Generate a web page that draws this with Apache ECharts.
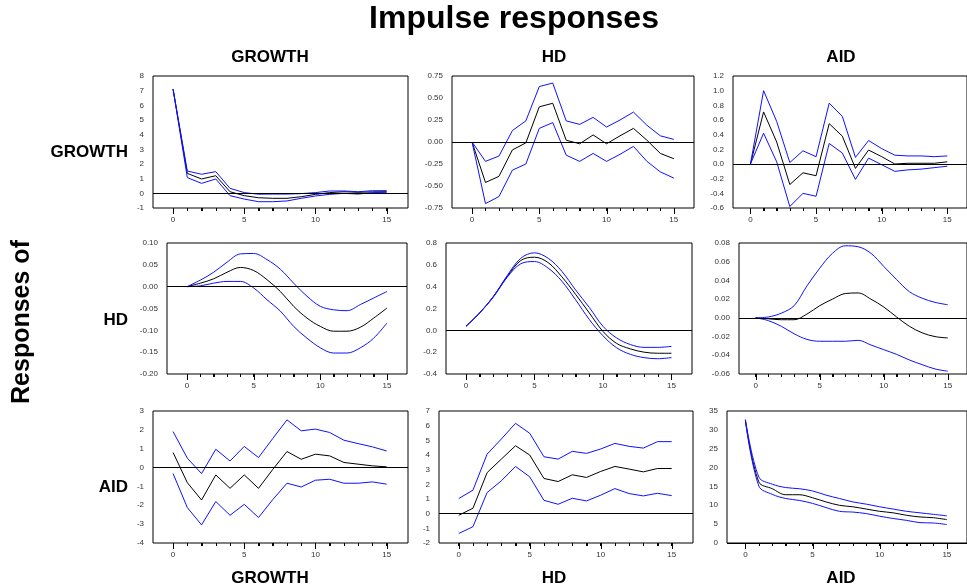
<!DOCTYPE html>
<html>
<head>
<meta charset="utf-8">
<script src="https://cdn.jsdelivr.net/npm/echarts@6/dist/echarts.min.js"></script>
<style>
html,body{margin:0;padding:0;background:#fff;}
#chart{width:967px;height:588px;}
</style>
</head>
<body>
<div id="chart"></div>
<script>
// ---------------- DATA ----------------
const periods = [0,1,2,3,4,5,6,7,8,9,10,11,12,13,14,15];
const xTickValues = [0,1,2,3,4,5,6,7,8,9,10,11,12,13,14,15];
const xLabelValues = [0,5,10,15];
const shockNames = ['GROWTH','HD','AID'];
const responseNames = ['GROWTH','HD','AID'];
const mainTitle = 'Impulse responses';
const sideTitle = 'Responses of';

// Responses of GROWTH
const gr_gr_mean  = [7.1,1.36,0.98,1.2,0.11,-0.16,-0.3,-0.34,-0.34,-0.23,-0.07,0.05,0.11,0.07,0.1,0.11];
const gr_gr_upper = [7.1,1.52,1.3,1.48,0.34,0.05,-0.06,-0.05,-0.05,-0.02,0.05,0.16,0.16,0.11,0.18,0.18];
const gr_gr_lower = [7.1,1.07,0.68,0.98,-0.16,-0.39,-0.57,-0.57,-0.52,-0.34,-0.18,-0.07,0.0,-0.05,0.05,0.07];

const gr_hd_mean  = [0,-0.46,-0.39,-0.09,-0.01,0.40,0.44,0.02,-0.02,0.08,-0.02,0.07,0.155,0.02,-0.13,-0.19];
const gr_hd_upper = [0,-0.22,-0.16,0.13,0.24,0.63,0.67,0.24,0.2,0.28,0.17,0.25,0.34,0.19,0.07,0.03];
const gr_hd_lower = [0,-0.70,-0.62,-0.32,-0.25,0.155,0.22,-0.15,-0.22,-0.13,-0.22,-0.14,-0.05,-0.22,-0.34,-0.41];

const gr_aid_mean  = [0,0.71,0.30,-0.28,-0.12,-0.16,0.55,0.38,-0.06,0.19,0.10,0.0,0.01,0.01,0.01,0.03];
const gr_aid_upper = [0,1.0,0.58,0.02,0.18,0.10,0.83,0.65,0.09,0.32,0.21,0.12,0.11,0.11,0.10,0.11];
const gr_aid_lower = [0,0.42,0.03,-0.58,-0.40,-0.44,0.28,0.15,-0.21,0.08,-0.01,-0.10,-0.08,-0.07,-0.05,-0.03];

// Responses of HD
const hd_gr_mean  = [0,0.008,0.018,0.033,0.044,0.037,0.016,-0.011,-0.045,-0.072,-0.091,-0.102,-0.102,-0.093,-0.072,-0.049];
const hd_gr_upper = [0,0.015,0.033,0.056,0.075,0.076,0.062,0.04,0.008,-0.022,-0.045,-0.053,-0.055,-0.041,-0.026,-0.011];
const hd_gr_lower = [0,0.002,0.008,0.012,0.012,-0.003,-0.03,-0.056,-0.091,-0.118,-0.14,-0.152,-0.152,-0.14,-0.118,-0.083];

const hd_hd_mean  = [0.037,0.16,0.31,0.49,0.64,0.67,0.62,0.49,0.33,0.16,-0.01,-0.12,-0.17,-0.2,-0.21,-0.21];
const hd_hd_upper = [0.037,0.16,0.31,0.50,0.66,0.71,0.66,0.54,0.37,0.21,0.037,-0.07,-0.13,-0.156,-0.156,-0.147];
const hd_hd_lower = [0.037,0.16,0.305,0.485,0.61,0.63,0.57,0.45,0.28,0.10,-0.05,-0.16,-0.22,-0.25,-0.26,-0.25];

const hd_aid_mean  = [0,-0.001,-0.002,-0.002,0.004,0.013,0.02,0.026,0.0266,0.02,0.0116,0.001,-0.009,-0.016,-0.02,-0.0215];
const hd_aid_upper = [0,0.001,0.005,0.013,0.034,0.053,0.069,0.077,0.076,0.069,0.055,0.041,0.028,0.021,0.0166,0.014];
const hd_aid_lower = [0,-0.003,-0.009,-0.017,-0.023,-0.025,-0.025,-0.025,-0.024,-0.029,-0.034,-0.039,-0.045,-0.05,-0.0546,-0.057];

// Responses of AID
const aid_gr_mean  = [0.8,-0.8,-1.72,-0.39,-1.1,-0.39,-1.1,-0.1,0.85,0.44,0.71,0.62,0.27,0.18,0.09,0.04];
const aid_gr_upper = [1.91,0.5,-0.32,0.97,0.35,1.12,0.53,1.54,2.53,1.95,2.04,1.86,1.45,1.27,1.1,0.88];
const aid_gr_lower = [-0.32,-2.12,-3.04,-1.8,-2.53,-1.95,-2.65,-1.7,-0.83,-1.03,-0.67,-0.62,-0.83,-0.83,-0.76,-0.88];

const aid_hd_mean  = [-0.11,0.37,2.8,3.72,4.63,4.0,2.4,2.19,2.65,2.47,2.88,3.22,3.04,2.85,3.08,3.08];
const aid_hd_upper = [1.03,1.6,4.06,5.09,6.16,5.48,3.88,3.72,4.25,4.11,4.41,4.79,4.59,4.47,4.91,4.91];
const aid_hd_lower = [-1.35,-0.89,1.44,2.24,3.22,2.51,0.91,0.64,1.05,0.87,1.26,1.71,1.37,1.21,1.39,1.23];

const aid_aid_mean  = [32.5,16.2,14.4,12.8,12.8,12.0,10.9,10.0,9.6,9.0,8.4,8.0,7.35,6.9,6.7,6.2];
const aid_aid_upper = [32.8,17.5,15.6,14.7,14.4,13.8,12.7,11.8,10.9,10.3,9.6,9.0,8.4,8.0,7.6,7.2];
const aid_aid_lower = [32.4,15.1,12.9,11.8,11.3,10.5,9.4,8.4,8.2,7.8,7.1,6.5,6.0,5.4,5.3,4.9];

// y-axis scales per panel (min, max, interval, decimals)
const yMins      = [-1, -0.75, -0.6, -0.2, -0.4, -0.06, -4, -2, 0];
const yMaxs      = [8, 0.75, 1.2, 0.1, 0.8, 0.08, 3, 7, 35];
const yIntervals = [1, 0.25, 0.2, 0.05, 0.2, 0.02, 1, 1, 5];
const yDecimals  = [0, 2, 1, 2, 1, 2, 0, 0, 0];

// ---------------- LAYOUT (positions, not data) ----------------
const panelLeft  = [153, 452, 733, 167, 446, 739, 153, 439, 727];
const panelWidth = [255, 242, 244.5, 240, 246, 237, 255, 254, 251];
const panelXMin  = [-1.41, -1.49, -1.33, -1.5, -1.46, -1.3, -1.41, -1.39, -1.37];
const rowTop     = [76, 243, 411];
const rowHeight  = [132, 131, 132];
const smoothPanel = [false,false,false,true,true,true,false,false,true];
const MINOR_TICK = 3, MAJOR_TICK = 6;

const means  = [gr_gr_mean, gr_hd_mean, gr_aid_mean, hd_gr_mean, hd_hd_mean, hd_aid_mean, aid_gr_mean, aid_hd_mean, aid_aid_mean];
const uppers = [gr_gr_upper, gr_hd_upper, gr_aid_upper, hd_gr_upper, hd_hd_upper, hd_aid_upper, aid_gr_upper, aid_hd_upper, aid_aid_upper];
const lowers = [gr_gr_lower, gr_hd_lower, gr_aid_lower, hd_gr_lower, hd_hd_lower, hd_aid_lower, aid_gr_lower, aid_hd_lower, aid_aid_lower];

const FONT = 'Liberation Sans, Arial, sans-serif';
const grids = [], xAxes = [], yAxes = [], series = [];

function pairs(arr){ return periods.map((p,i)=>[p, arr[i]]); }

for (let k = 0; k < 9; k++) {
  const r = Math.floor(k/3);
  grids.push({
    left: panelLeft[k], top: rowTop[r], width: panelWidth[k], height: rowHeight[r],
    show: true, borderColor: '#000', borderWidth: 1, containLabel: false
  });
  const dec = yDecimals[k];
  yAxes.push({
    gridIndex: k, type: 'value', min: yMins[k], max: yMaxs[k], interval: yIntervals[k],
    axisLine: {show: false, onZero: false}, splitLine: {show: false}, axisTick: {show: false},
    axisLabel: {
      fontSize: 8, fontFamily: FONT, color: '#333', margin: 9,
      formatter: v => { if (Math.abs(v) < 1e-9) v = 0; return v.toFixed(dec); }
    }
  });
  xAxes.push({
    gridIndex: k, type: 'value', position: 'bottom', min: panelXMin[k], max: 16.5,
    axisLine: {show: false, onZero: false}, splitLine: {show: false},
    axisTick: {show: true, customValues: xTickValues, length: MINOR_TICK, lineStyle: {color: '#000', width: 1}},
    axisLabel: {show: true, customValues: xLabelValues, fontSize: 8, fontFamily: FONT, color: '#333', margin: 8}
  });
  const base = {
    type: 'line', xAxisIndex: k, yAxisIndex: k, symbol: 'none', showSymbol: false,
    smooth: smoothPanel[k] ? 0.35 : false, animation: false, silent: true
  };
  series.push(Object.assign({}, base, {
    name: 'mean' + k, data: pairs(means[k]),
    lineStyle: {color: '#000', width: 1},
    markLine: {
      silent: true, symbol: ['none','none'], label: {show: false}, animation: false,
      lineStyle: {color: '#000', width: 1, type: 'solid'},
      data: [{yAxis: 0}]
    }
  }));
  series.push(Object.assign({}, base, {
    name: 'upper' + k, data: pairs(uppers[k]), lineStyle: {color: '#1010ff', width: 1}
  }));
  series.push(Object.assign({}, base, {
    name: 'lower' + k, data: pairs(lowers[k]), lineStyle: {color: '#1010ff', width: 1}
  }));
}

const colX = [270, 554, 841];
const rowLabelY = [152, 320, 487];
const graphics = [];
graphics.push({type: 'text', x: 514, y: 19, style: {text: mainTitle, fontSize: 32, fontWeight: 'bold', fontFamily: FONT, fill: '#000', align: 'center', verticalAlign: 'middle'}});
graphics.push({type: 'text', x: 22, y: 322, rotation: Math.PI/2, style: {text: sideTitle, fontSize: 25, fontWeight: 'bold', fontFamily: FONT, fill: '#000', align: 'center', verticalAlign: 'middle'}});
for (let c = 0; c < 3; c++) {
  graphics.push({type: 'text', x: colX[c], y: 57, style: {text: shockNames[c], fontSize: 17, fontWeight: 'bold', fontFamily: FONT, fill: '#000', align: 'center', verticalAlign: 'middle'}});
  graphics.push({type: 'text', x: colX[c], y: 578, style: {text: shockNames[c], fontSize: 17, fontWeight: 'bold', fontFamily: FONT, fill: '#000', align: 'center', verticalAlign: 'middle'}});
}
for (let r = 0; r < 3; r++) {
  graphics.push({type: 'text', x: 128, y: rowLabelY[r], style: {text: responseNames[r], fontSize: 17, fontWeight: 'bold', fontFamily: FONT, fill: '#000', align: 'right', verticalAlign: 'middle'}});
}

const chart = echarts.init(document.getElementById('chart'), null, {renderer: 'canvas'});
chart.setOption({
  animation: false,
  backgroundColor: '#fff',
  grid: grids, xAxis: xAxes, yAxis: yAxes, series: series,
  graphic: graphics
});

// Tick marks below each frame, positioned through the x axis scale
const tickGraphics = [];
for (let k = 0; k < 9; k++) {
  const r = Math.floor(k/3);
  const yBottom = rowTop[r] + rowHeight[r];
  xTickValues.forEach(v => {
    const px = chart.convertToPixel({xAxisIndex: k}, v);
    if (px == null || isNaN(px)) return;
    const x = Math.round(px) + 0.5;
    const len = xLabelValues.indexOf(v) >= 0 ? MAJOR_TICK : MINOR_TICK;
    tickGraphics.push({
      type: 'line', silent: true, z: 100,
      shape: {x1: x, y1: yBottom, x2: x, y2: yBottom + len},
      style: {stroke: '#000', lineWidth: 1}
    });
  });
}
chart.setOption({graphic: graphics.concat(tickGraphics)});
</script>
</body>
</html>
